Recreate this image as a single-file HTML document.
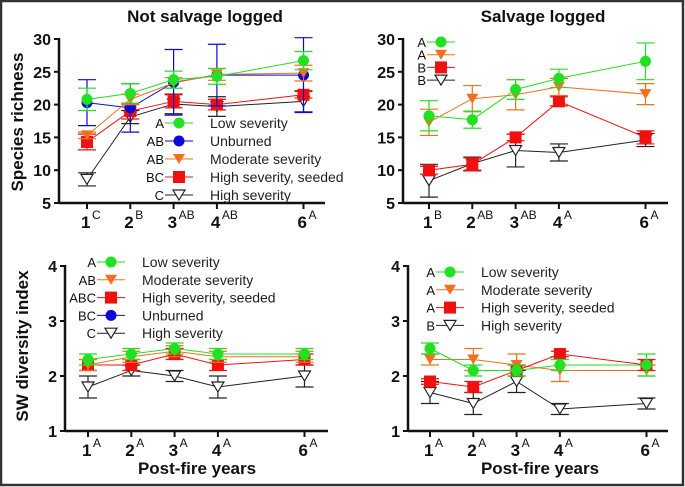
<!DOCTYPE html>
<html><head><meta charset="utf-8"><style>
body{margin:0;background:#fff}
svg{display:block;font-family:"Liberation Sans",Arial,sans-serif}
</style></head><body>
<svg id="c" width="685" height="487" xmlns="http://www.w3.org/2000/svg">
<rect x="1" y="1" width="682" height="484" fill="#fff" stroke="#333" stroke-width="2.5"/>
</svg>
<script>
const years=[1,2,3,4,6];
const colors={low:'#22e022',unb:'#0a0ad8',mod:'#f07020',hss:'#f01010',high:'#222'};
// Species richness, not salvage logged
const tlLow=[20.8,21.7,23.8,24.3,26.7], tlLowE=[1.7,1.5,1.3,1.2,1.4];
const tlUnb=[20.3,19.5,23.4,24.5,24.5], tlUnbE=[3.5,3.7,5,4.7,5.7];
const tlMod=[15.3,20.8,23.3,24.6,24.8], tlModE=[0.5,0.8,0.8,0.9,1.2];
const tlHss=[14.3,19.0,20.5,20.0,21.5], tlHssE=[1.2,1.2,1.0,0.8,0.5];
const tlHigh=[8.6,18.1,20.1,19.7,20.5], tlHighE=[1.0,1.0,1.5,1.5,1.6];
// Species richness, salvage logged
const trLow=[18.3,17.7,22.3,24.0,26.6], trLowE=[2.3,1.3,1.5,1.4,2.8];
const trMod=[17.3,20.9,21.5,22.7,21.6], trModE=[2,2,2.3,1.3,1.6];
const trHss=[10.0,10.9,15.0,20.5,15.0], trHssE=[0.6,1,0.5,0.7,1];
const trHigh=[8.4,11.0,13.0,12.7,14.6], trHighE=[2.5,1,2.5,1.3,1];
// SW diversity, not salvage logged
const blLow=[2.3,2.4,2.5,2.4,2.4], blLowE=[0.1,0.1,0.1,0.1,0.1];
const blMod=[2.2,2.35,2.45,2.35,2.35], blModE=[0.1,0.1,0.1,0.1,0.1];
const blHss=[2.2,2.2,2.4,2.2,2.3], blHssE=[0.1,0.1,0.1,0.1,0.1];
const blHigh=[1.8,2.1,2.0,1.8,2.0], blHighE=[0.2,0.1,0.1,0.2,0.2];
// SW diversity, salvage logged
const brLow=[2.5,2.1,2.1,2.2,2.2], brLowE=[0.1,0.1,0.1,0.1,0.2];
const brMod=[2.3,2.3,2.2,2.1,2.1], brModE=[0.1,0.2,0.2,0.2,0.1];
const brHss=[1.9,1.8,2.1,2.4,2.2], brHssE=[0.05,0.1,0.1,0.05,0.1];
const brHigh=[1.7,1.5,1.9,1.4,1.5], brHighE=[0.2,0.2,0.2,0.1,0.1];
const tlSup=['C','B','AB','AB','A'], trSup=['B','AB','AB','A','A'], bSup=['A','A','A','A','A'];
const richTicks=[5,10,15,20,25,30], divTicks=[1,2,3,4];

const svg=document.getElementById('c');
const NS='http://www.w3.org/2000/svg';
function el(t,a,p){const e=document.createElementNS(NS,t);for(const k in a)e.setAttribute(k,a[k]);(p||svg).appendChild(e);return e;}

function marker(g,kind,x,y,col){
  let m;
  if(kind==='circle') m=el('circle',{cx:x,cy:y,r:5.5,fill:col},g);
  else if(kind==='square') m=el('rect',{x:x-6,y:y-6,width:12,height:12,fill:col},g);
  else if(kind==='tri') m=el('polygon',{points:`${x-6},${y-5} ${x+6},${y-5} ${x},${y+5}`,fill:col},g);
  else m=el('polygon',{points:`${x-6},${y-5} ${x+6},${y-5} ${x},${y+5}`,fill:'#fff',stroke:col,'stroke-width':1.2},g);
  return m;
}

function panel(o){
  const sx=v=>o.x0+(v-1)*o.xs;
  const sy=v=>o.yb-(v-o.ymin)*o.ys;
  const g=el('g',{});
  
  
  // axes
  const ya=el('line',{x1:o.ax,y1:sy(o.ymax)-1,x2:o.ax,y2:o.yb,stroke:'#111','stroke-width':2.5},g);
  
  const xa=el('line',{x1:o.ax,y1:o.yb,x2:o.axEnd,y2:o.yb,stroke:'#111','stroke-width':2.5},g);
  
  o.ticks.forEach(t=>{
    el('line',{x1:o.ax-5,y1:sy(t),x2:o.ax,y2:sy(t),stroke:'#111','stroke-width':2},g);
    const tx=el('text',{x:o.ax-8,y:sy(t)+6,'text-anchor':'end','font-size':16,'font-weight':'bold',fill:'#111'},g);
    tx.textContent=t;
    
  });
  years.forEach((yr,i)=>{
    el('line',{x1:sx(yr),y1:o.yb,x2:sx(yr),y2:o.yb+6,stroke:'#111','stroke-width':2},g);
    const tx=el('text',{x:sx(yr)-6,y:o.yb+25,'font-size':17,'font-weight':'bold',fill:'#111'},g);
    tx.textContent=yr;
    
    const s=el('text',{x:sx(yr)+5,y:o.yb+16,'font-size':12,fill:'#111'},g);
    s.textContent=o.sup[i];
    
  });
  o.series.forEach(s=>{
    const sg=el('g',{},g);
    
    const col=colors[s.key];
    el('polyline',{points:s.v.map((v,i)=>sx(years[i])+','+sy(v)).join(' '),fill:'none',stroke:col,'stroke-width':1},sg);
    s.v.forEach((v,i)=>{
      const x=sx(years[i]),e=s.e[i];
      el('line',{x1:x,y1:sy(v+e),x2:x,y2:sy(v-e),stroke:col,'stroke-width':1.2},sg);
      el('line',{x1:x-9,y1:sy(v+e),x2:x+9,y2:sy(v+e),stroke:col,'stroke-width':1.2},sg);
      el('line',{x1:x-9,y1:sy(v-e),x2:x+9,y2:sy(v-e),stroke:col,'stroke-width':1.2},sg);
      const m=marker(sg,s.m,x,sy(v),col);
      
      
    });
  });
  // legend
  const lg=el('g',{},g);
  
  o.legend.forEach((L,i)=>{
    const y=o.ly+i*o.lstep,col=colors[L.key];
    const eg=el('g',{},lg);
    
    const a=el('text',{x:o.lx-1,y:y+5,'text-anchor':'end','font-size':13,fill:'#111'},eg);a.textContent=L.letter;
    el('line',{x1:o.lx,y1:y,x2:o.lx+28,y2:y,stroke:col,'stroke-width':1},eg);
    marker(eg,L.m,o.lx+14,y,col);
    if(L.label){const t=el('text',{x:o.lx+45,y:y+5,'font-size':14,fill:'#222'},eg);t.textContent=L.label;}
  });
}

function ser(key,m,v,e){return {key,m,v,e};}
panel({name:'panel-not-salvage-richness',ax:59,axEnd:325,x0:87,xs:43.3,yb:203,ymin:5,ymax:30,ys:6.56,ticks:richTicks,sup:tlSup,
  series:[ser('high','open',tlHigh,tlHighE),ser('hss','square',tlHss,tlHssE),ser('unb','circle',tlUnb,tlUnbE),ser('mod','tri',tlMod,tlModE),ser('low','circle',tlLow,tlLowE)],
  lx:165,ly:123,lstep:18,legend:[{letter:'A',key:'low',m:'circle',label:'Low severity'},{letter:'AB',key:'unb',m:'circle',label:'Unburned'},{letter:'AB',key:'mod',m:'tri',label:'Moderate severity'},{letter:'BC',key:'hss',m:'square',label:'High severity, seeded'},{letter:'C',key:'high',m:'open',label:'High severity'}]});
panel({name:'panel-salvage-richness',ax:403,axEnd:668,x0:429,xs:43.3,yb:203,ymin:5,ymax:30,ys:6.56,ticks:richTicks,sup:trSup,
  series:[ser('high','open',trHigh,trHighE),ser('hss','square',trHss,trHssE),ser('mod','tri',trMod,trModE),ser('low','circle',trLow,trLowE)],
  lx:427,ly:42,lstep:12.7,legend:[{letter:'A',key:'low',m:'circle'},{letter:'A',key:'mod',m:'tri'},{letter:'B',key:'hss',m:'square'},{letter:'B',key:'high',m:'open'}]});
panel({name:'panel-not-salvage-diversity',ax:65,axEnd:328,x0:88,xs:43.3,yb:431,ymin:1,ymax:4,ys:55,ticks:divTicks,sup:bSup,
  series:[ser('high','open',blHigh,blHighE),ser('hss','square',blHss,blHssE),ser('mod','tri',blMod,blModE),ser('low','circle',blLow,blLowE)],
  lx:97,ly:262,lstep:17.8,legend:[{letter:'A',key:'low',m:'circle',label:'Low severity'},{letter:'AB',key:'mod',m:'tri',label:'Moderate severity'},{letter:'ABC',key:'hss',m:'square',label:'High severity, seeded'},{letter:'BC',key:'unb',m:'circle',label:'Unburned'},{letter:'C',key:'high',m:'open',label:'High severity'}]});
panel({name:'panel-salvage-diversity',ax:408,axEnd:668,x0:430,xs:43.3,yb:431,ymin:1,ymax:4,ys:55,ticks:divTicks,sup:bSup,
  series:[ser('high','open',brHigh,brHighE),ser('mod','tri',brMod,brModE),ser('hss','square',brHss,brHssE),ser('low','circle',brLow,brLowE)],
  lx:436,ly:272,lstep:17.8,legend:[{letter:'A',key:'low',m:'circle',label:'Low severity'},{letter:'A',key:'mod',m:'tri',label:'Moderate severity'},{letter:'A',key:'hss',m:'square',label:'High severity, seeded'},{letter:'B',key:'high',m:'open',label:'High severity'}]});

function txt(s,a,name){const t=el('text',a);t.textContent=s;}
txt('Not salvage logged',{x:205,y:22,'text-anchor':'middle','font-size':17,'font-weight':'bold',fill:'#111'},'title-not-salvage');
txt('Salvage logged',{x:543,y:22,'text-anchor':'middle','font-size':17,'font-weight':'bold',fill:'#111'},'title-salvage');
txt('Species richness',{x:0,y:0,'text-anchor':'middle','font-size':17,'font-weight':'bold',fill:'#111',transform:'translate(23,122) rotate(-90)'},'y-axis-title-richness');
txt('SW diversity index',{x:0,y:0,'text-anchor':'middle','font-size':17,'font-weight':'bold',fill:'#111',transform:'translate(28,346) rotate(-90)'},'y-axis-title-diversity');
txt('Post-fire years',{x:197,y:474,'text-anchor':'middle','font-size':17,'font-weight':'bold',fill:'#111'},'x-axis-title-left');
txt('Post-fire years',{x:540,y:474,'text-anchor':'middle','font-size':17,'font-weight':'bold',fill:'#111'},'x-axis-title-right');
</script>
</body></html>
